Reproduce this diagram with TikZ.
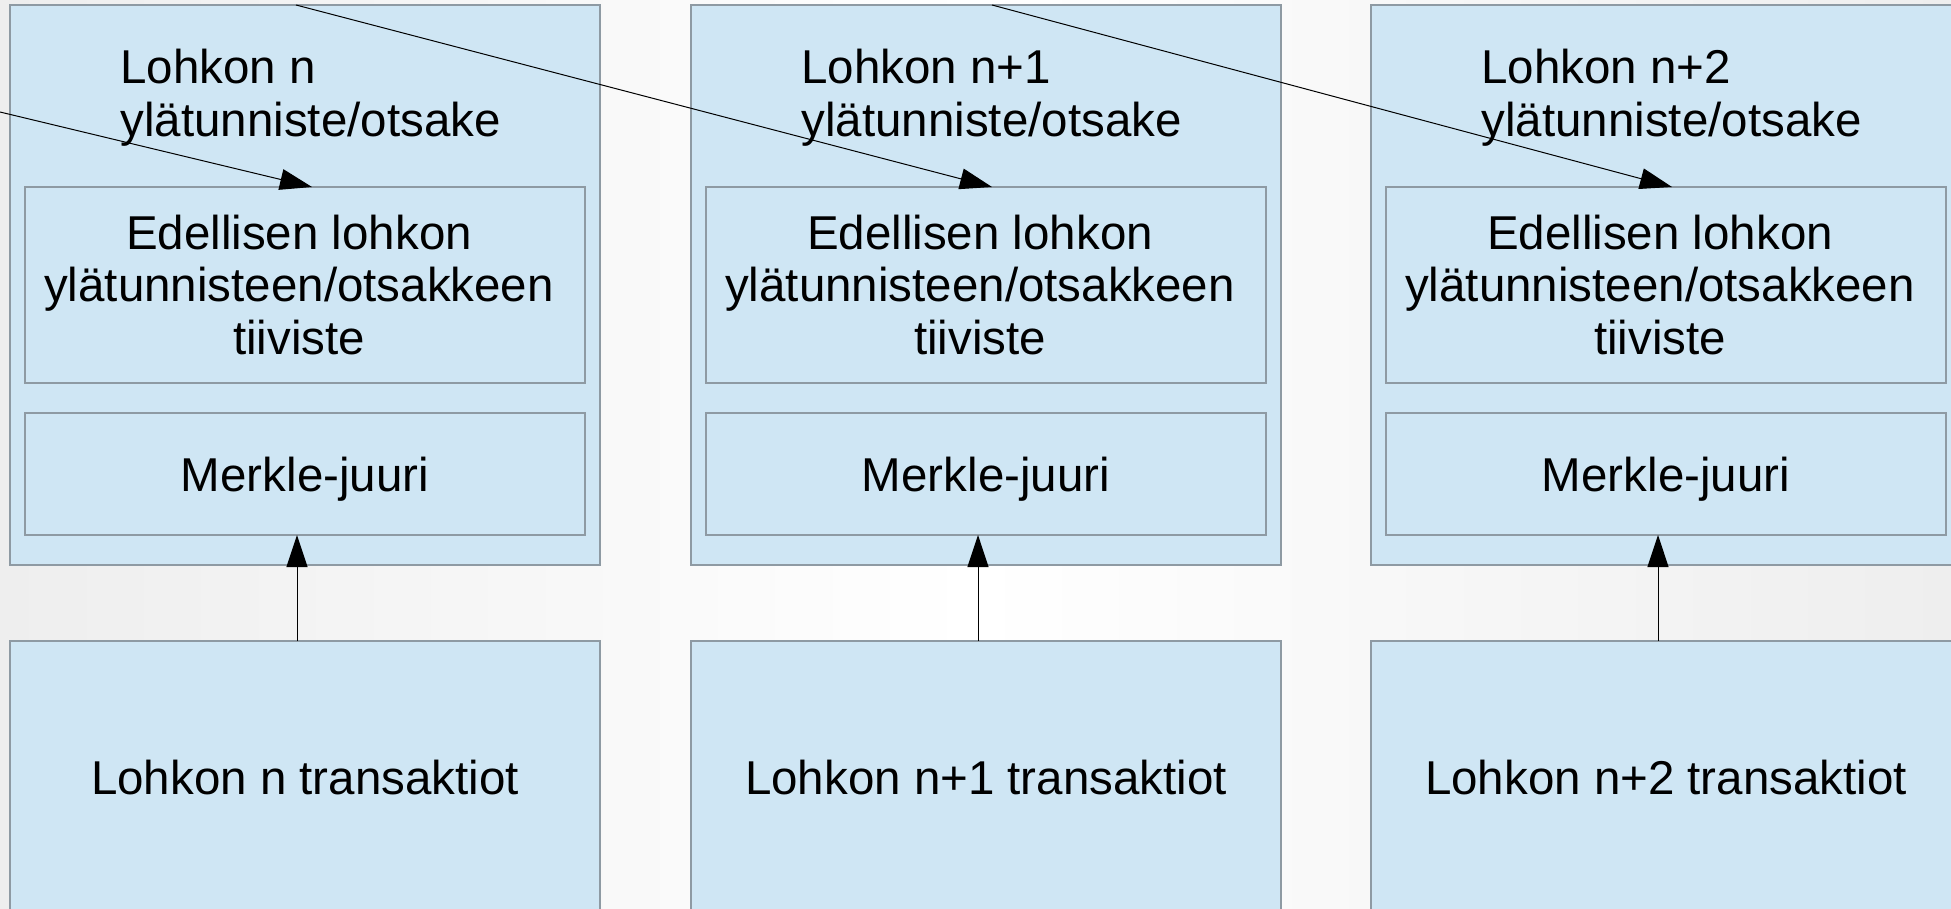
\documentclass[tikz,border=0pt]{standalone}
\usepackage{fontspec}
\setmainfont{Liberation Sans}
\usetikzlibrary{arrows.meta}
\definecolor{boxfill}{HTML}{CFE6F4}
\definecolor{boxline}{HTML}{8E9AA3}
\definecolor{bgside}{HTML}{EEEEEE}
\tikzset{
  blk/.style={draw=boxline, line width=1.3pt, fill=boxfill, rectangle, inner sep=0pt, outer sep=0pt, anchor=north west},
  lbl/.style={font=\fontsize{47.5}{52.5}\selectfont, align=center},
  hdr/.style={inner sep=0pt, outer sep=0pt, font=\fontsize{47.5}{53}\selectfont, align=left, anchor=north west},
  conn/.style={line width=1pt, -{Triangle[length=32pt,width=21pt]}},
}
\begin{document}
\begin{tikzpicture}[x=1pt,y=-1pt]
\useasboundingbox (0,0) rectangle (1951,909);
\shade[left color=bgside, right color=bgside, middle color=white] (0,0) rectangle (1951,909);
\begin{scope}
\clip (0,0) rectangle (1951,909);
\foreach \i/\x/\t in {0/10/n, 1/691/n+1, 2/1371/n+2}{
  \node[blk, minimum width=590pt, minimum height=560pt] (b\i) at (\x,5) {};
  \node[blk, minimum width=560pt, minimum height=196pt] (ed\i) at (\x+15,187) {};
  \node[lbl, inner sep=0pt] (et\i) at ([xshift=-6pt]ed\i.center)
     {Edellisen lohkon\\ylätunnisteen/otsakkeen\\tiiviste};
  \node[blk, lbl, text depth=0pt, minimum width=560pt, minimum height=122pt] (mk\i) at (\x+15,413) {Merkle-juuri};
  \node[hdr] (h\i) at (\x+110.5,49) {Lohkon \t\\ylätunniste/otsake};
  \node[blk, minimum width=590pt, minimum height=320pt] (tx\i) at (\x,641) {};
  \node[lbl, text depth=0pt, inner sep=0pt] (tt\i) at (\x+295,777) {Lohkon \t{} transaktiot};
  \path (tx\i.north west) ++(287,0) coordinate (vs\i);
  \draw[conn] (vs\i) -- (vs\i |- mk\i.south);
}
\coordinate (prev) at (0,112);
\path (b0.north west) ++(286,0) coordinate (s0);
\path (b1.north west) ++(301,0) coordinate (s1);
\path (ed0.north west) ++(287,0) coordinate (e0);
\path (ed1.north west) ++(286,0) coordinate (e1);
\path (ed2.north west) ++(286,0) coordinate (e2);
\draw[conn] (prev) -- (e0);
\draw[conn] (s0) -- (e1);
\draw[conn] (s1) -- (e2);
\end{scope}
\end{tikzpicture}
\end{document}
